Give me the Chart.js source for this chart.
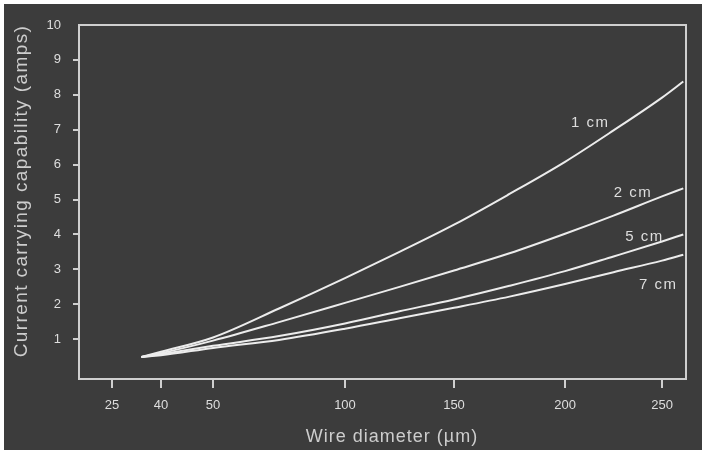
<!DOCTYPE html>
<html lang="en">
<head>
<meta charset="UTF-8">
<title>Current carrying capability vs wire diameter</title>
<script src="https://cdn.jsdelivr.net/npm/chart.js@4"></script>
<style>
  html, body { margin: 0; padding: 0; background: #fff; }
  canvas { display: block; }
</style>
</head>
<body>
<canvas id="chart" width="702" height="450"></canvas>
<script>
const diameters = [34, 40, 50, 75, 100, 125, 150, 175, 200, 225, 250, 261];
// current carrying capability (amps) for each wire length
const amps1cm = [0.49, 0.64, 1.05, 1.88, 2.75, 3.50, 4.28, 5.16, 6.08, 6.98, 7.92, 8.38];
const amps2cm = [0.49, 0.60, 0.96, 1.49, 2.04, 2.50, 2.97, 3.46, 4.02, 4.54, 5.09, 5.32];
const amps5cm = [0.49, 0.57, 0.81, 1.09, 1.45, 1.80, 2.14, 2.53, 2.95, 3.37, 3.80, 4.00];
const amps7cm = [0.49, 0.54, 0.75, 0.98, 1.30, 1.60, 1.90, 2.22, 2.58, 2.92, 3.25, 3.42];
const lengths = ['1 cm', '2 cm', '5 cm', '7 cm'];
const xTicks = [25, 40, 50, 100, 150, 200, 250];
const yTicks = [1, 2, 3, 4, 5, 6, 7, 8, 9, 10];

const FONT = '"Liberation Sans", Arial, sans-serif';
const BG = '#3c3c3c';
const AXIS = '#cfcfcf';
const TEXT = '#dedede';
const LINE = '#ececec';

// the printed x axis is not evenly spaced: [µm, fraction of plot width]
const xWarp = [[15, 0], [25, 0.0544], [40, 0.1351], [50, 0.2208], [100, 0.4382],
               [150, 0.6178], [200, 0.8007], [250, 0.9605], [262.4, 1]];

class WarpedScale extends Chart.LinearScale {
  getPixelForValue(value) {
    if (value === null || isNaN(value)) return NaN;
    let i = 1;
    while (i < xWarp.length - 1 && value > xWarp[i][0]) i++;
    const [v0, f0] = xWarp[i - 1], [v1, f1] = xWarp[i];
    return this.getPixelForDecimal(f0 + (value - v0) / (v1 - v0) * (f1 - f0));
  }
  getValueForPixel(pixel) {
    const f = this.getDecimalForPixel(pixel);
    let i = 1;
    while (i < xWarp.length - 1 && f > xWarp[i][1]) i++;
    const [v0, f0] = xWarp[i - 1], [v1, f1] = xWarp[i];
    return v0 + (f - f0) / (f1 - f0) * (v1 - v0);
  }
}
WarpedScale.id = 'warped';
WarpedScale.defaults = Chart.LinearScale.defaults;
Chart.register(WarpedScale);

const seriesValues = [amps1cm, amps2cm, amps5cm, amps7cm];

const decor = {
  id: 'decor',
  beforeDraw(chart) {
    const { ctx, width, height } = chart;
    ctx.save();
    ctx.fillStyle = '#fff';
    ctx.fillRect(0, 0, width, height);
    ctx.fillStyle = BG;
    ctx.fillRect(4, 4, width - 4, height - 4);
    ctx.restore();
  },
  beforeDatasetsDraw(chart) {
    const { ctx, chartArea: a } = chart;
    ctx.save();
    ctx.strokeStyle = AXIS;
    ctx.lineWidth = 2;
    ctx.strokeRect(a.left, a.top, a.right - a.left, a.bottom - a.top);
    ctx.restore();
  },
  afterDraw(chart, args, opts) {
    const { ctx, scales } = chart;
    ctx.save();
    ctx.fillStyle = TEXT;
    ctx.textAlign = 'center';
    ctx.textBaseline = 'middle';

    // curve labels
    ctx.font = '15px ' + FONT;
    ctx.letterSpacing = '1.5px';
    opts.labels.forEach(l => {
      ctx.fillText(l.text, scales.x.getPixelForValue(l.at[0]), scales.y.getPixelForValue(l.at[1]));
    });

    // axis titles
    ctx.fillStyle = '#cdcdcd';
    ctx.font = '18px ' + FONT;
    ctx.letterSpacing = '1px';
    ctx.fillText('Wire diameter (\u00b5m)', 392, 437);

    ctx.translate(22, 191);
    ctx.rotate(-Math.PI / 2);
    ctx.font = '19px ' + FONT;
    ctx.letterSpacing = '1.4px';
    ctx.fillText('Current carrying capability (amps)', 0, 0);
    ctx.restore();
  }
};

new Chart(document.getElementById('chart'), {
  type: 'line',
  data: {
    datasets: seriesValues.map((vals, k) => ({
      label: lengths[k],
      data: diameters.map((d, i) => ({ x: d, y: vals[i] })),
      borderColor: LINE,
      borderWidth: 2,
      pointRadius: 0,
      cubicInterpolationMode: 'monotone',
      fill: false
    }))
  },
  options: {
    responsive: false,
    animation: false,
    devicePixelRatio: 1,
    layout: { padding: { left: 0, top: 25, right: 16, bottom: 0 } },
    plugins: {
      legend: { display: false },
      tooltip: { enabled: false },
      decor: {
        labels: [
          { text: lengths[0], at: [213, 7.19] },
          { text: lengths[1], at: [235, 5.2] },
          { text: lengths[2], at: [241, 3.94] },
          { text: lengths[3], at: [248, 2.56] }
        ]
      }
    },
    scales: {
      x: {
        type: 'warped',
        min: 15,
        max: 262.4,
        afterBuildTicks: s => { s.ticks = xTicks.map(v => ({ value: v })); },
        afterFit: s => { s.height = 71; },
        border: { display: false },
        grid: { drawOnChartArea: false, drawTicks: true, tickLength: 9, color: AXIS, lineWidth: 2 },
        ticks: { color: TEXT, padding: 10, maxRotation: 0, autoSkip: false, font: { family: FONT, size: 13 } }
      },
      y: {
        min: -0.14,
        max: 10,
        afterBuildTicks: s => { s.ticks = yTicks.map(v => ({ value: v })); },
        afterFit: s => { s.width = 79; },
        border: { display: false },
        grid: {
          drawOnChartArea: false, drawTicks: true, tickLength: 6, lineWidth: 2,
          color: c => (c.tick && c.tick.value === 10 ? 'rgba(0,0,0,0)' : AXIS)
        },
        ticks: { color: TEXT, padding: 12, font: { family: FONT, size: 13 } }
      }
    }
  },
  plugins: [decor]
});
</script>
</body>
</html>
